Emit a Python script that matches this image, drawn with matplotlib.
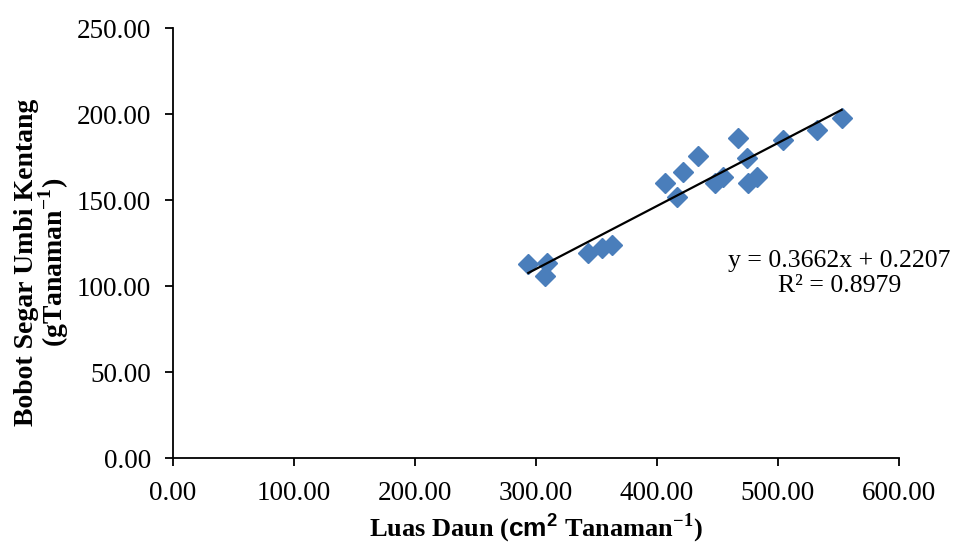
import matplotlib
matplotlib.use("Agg")
import matplotlib.pyplot as plt
import numpy as np

# ── data ──────────────────────────────────────────────────────────────────
luas_daun = [293.6, 308.8, 307.4, 343.2, 354.3, 362.6, 406.6, 416.3, 421.7,
             434.1, 447.9, 454.8, 467.2, 474.1, 475.5, 482.4, 503.9, 532.5,
             552.6]
bobot_umbi = [113.1, 113.5, 105.7, 119.3, 122.2, 124.1, 160.0, 152.2, 166.4,
              176.0, 160.0, 163.8, 186.2, 174.5, 160.0, 163.8, 185.2, 191.0,
              197.8]
slope, intercept, r2 = 0.3662, 0.2207, 0.8979

x_ticks = [0, 100, 200, 300, 400, 500, 600]
y_ticks = [0, 50, 100, 150, 200, 250]

plt.rcParams["font.family"] = ["Liberation Serif", "DejaVu Serif"]
plt.rcParams["mathtext.fontset"] = "custom"
plt.rcParams["mathtext.rm"] = "Liberation Serif:bold"
plt.rcParams["mathtext.bf"] = "Liberation Serif:bold"
plt.rcParams["mathtext.sf"] = "Liberation Sans:bold"

fig = plt.figure(figsize=(9.58, 5.43), dpi=100)
ax = fig.add_axes([0.1806, 0.156, 0.9384 - 0.1806, 0.9479 - 0.156])

ax.plot(luas_daun, bobot_umbi, linestyle="none", marker="D", ms=10.5,
        color="#4A7EBB", mec="#4A7EBB", zorder=2)

# linear trendline over the data range
xs = np.array([min(luas_daun), max(luas_daun)])
ax.plot(xs, slope * xs + intercept, color="black", lw=1.6, zorder=3)

ax.text(551, 107.5, f"y = {slope}x + {intercept}\nR² = {r2}",
        ha="center", va="center", multialignment="center",
        fontsize=18.5, linespacing=1.2, clip_on=False)

ax.set_xlim(0, 600)
ax.set_ylim(0, 250)
ax.set_xticks(x_ticks)
ax.set_yticks(y_ticks)
ax.set_xticklabels([f"{v:.2f}" for v in x_ticks])
ax.set_yticklabels([f"{v:.2f}" for v in y_ticks])

for side in ("top", "right"):
    ax.spines[side].set_visible(False)
for side in ("left", "bottom"):
    ax.spines[side].set_linewidth(1.3)
    ax.spines[side].set_color("black")
ax.tick_params(direction="out", length=6, width=1.3, labelsize=19.5,
               colors="black")
ax.tick_params(axis="x", pad=10)
ax.tick_params(axis="y", pad=10)

ax.set_xlabel("Luas Daun ($\\mathsf{cm^{2}}$ Tanaman$^{\\mathbf{-1}}$)",
              fontsize=19, fontweight="bold", labelpad=4)
ax.set_ylabel("Bobot Segar Umbi Kentang\n(gTanaman$^{\\mathbf{-1}}$)",
              fontsize=20, fontweight="bold", labelpad=4, linespacing=0.88)
ax.yaxis.label.set_y(0.4565)

fig.savefig("out.png", dpi=100)
